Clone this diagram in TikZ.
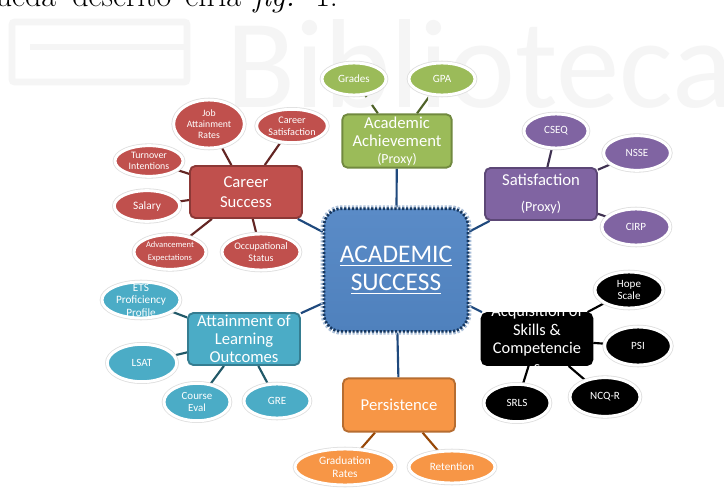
\documentclass[tikz,border=0pt]{standalone}
\usepackage{fontspec}
\newfontfamily\diagfont{Carlito}
\usetikzlibrary{shapes.geometric}
\pgfdeclarelayer{bg}
\pgfsetlayers{bg,main}

% palette
\definecolor{accBlue}{HTML}{4F81BD}
\definecolor{accBlueTop}{HTML}{5A8BC7}
\definecolor{accBlueEdge}{HTML}{17375E}
\definecolor{accBlueHalo}{HTML}{A9BED8}
\definecolor{linkBlue}{HTML}{1F497D}
\definecolor{accGreen}{HTML}{9BBB59}
\definecolor{accGreenEdge}{HTML}{71893F}
\definecolor{linkGreen}{HTML}{4F6228}
\definecolor{accRed}{HTML}{C0504D}
\definecolor{accRedEdge}{HTML}{8C3836}
\definecolor{linkRed}{HTML}{632523}
\definecolor{accPurple}{HTML}{8064A2}
\definecolor{accPurpleEdge}{HTML}{5C4776}
\definecolor{linkPurple}{HTML}{3F3151}
\definecolor{accTeal}{HTML}{4BACC6}
\definecolor{accTealEdge}{HTML}{357D91}
\definecolor{linkTeal}{HTML}{215968}
\definecolor{accOrange}{HTML}{F79646}
\definecolor{accOrangeEdge}{HTML}{B66D31}
\definecolor{linkOrange}{HTML}{984807}

\tikzset{
  hub/.style={rectangle, rounded corners=4pt, line width=1.4pt, text=white,
    align=center, inner xsep=0pt, inner ysep=0pt,
    font=\diagfont\fontsize{12.5}{14}\selectfont},
  leaf/.style={ellipse, inner xsep=0pt, inner ysep=-4pt, text=white,
    align=center, draw=white, line width=2.2pt,
    preaction={draw=black!13, line width=3.4pt},
    font=\diagfont\fontsize{8.3}{9.4}\selectfont},
  link/.style={line width=1.6pt},
}

\begin{document}
\begin{tikzpicture}[x=0.75pt,y=-0.75pt]
\useasboundingbox (0,0) rectangle (724,492);
\clip (0,0) rectangle (724,492);

% connectors and page background, kept behind the shapes
\begin{pgfonlayer}{bg}
  \fill[white] (0,0) rectangle (724,492);
  % faint library watermark
  \draw[black!4, line width=5pt, rounded corners=2pt] (12,22) rectangle (187,82);
  \draw[black!4, line width=4pt] (30,47) -- (185,47);
\end{pgfonlayer}
\node[anchor=base west, inner sep=0pt, text=black!4,
      font=\diagfont\fontsize{95}{95}\selectfont] (wmark) at (226,108) {Biblioteca};

% running text of the page above the figure
\node[anchor=base west, inner sep=0pt, font=\fontsize{24}{26}\selectfont]
  (caption) at (-20,7)
  {\rlap{queda}\hspace{69pt}\rlap{descrito}\hspace{84.75pt}\rlap{en}\hspace{24.75pt}\rlap{la}\hspace{26.25pt}\rlap{\textit{fig.}}\hspace{46.5pt}1.};

% central node
\node[rectangle, rounded corners=13pt, minimum width=108pt, minimum height=92pt,
      top color=accBlueTop, bottom color=accBlue,
      preaction={draw=accBlueHalo, line width=5pt},
      draw=accBlueEdge, line width=2pt, dash pattern=on 1.6pt off 1.3pt,
      text=white, align=center, inner sep=0pt,
      font=\diagfont\fontsize{19}{21}\selectfont]
  (core) at (396,270) {\underline{ACADEMIC}\\\underline{SUCCESS}};

% first ring of categories
\node[hub, fill=accGreen, draw=accGreenEdge, minimum width=82pt, minimum height=40pt]
  (acad) at (397,141) {Academic\\Achievement\\[-1.5pt]{\fontsize{10.4}{12}\selectfont(Proxy)}};
\node[hub, fill=accRed, draw=accRedEdge, minimum width=84pt, minimum height=39pt]
  (career) at (246,192) {Career\\[1pt]Success};
\node[hub, fill=accPurple, draw=accPurpleEdge, minimum width=84pt, minimum height=39pt]
  (satis) at (541,194) {Satisfaction\\[5pt]{\fontsize{10.6}{12}\selectfont(Proxy)}};
\node[hub, fill=accTeal, draw=accTealEdge, minimum width=84pt, minimum height=39pt,
      inner ysep=-3pt, font=\diagfont\fontsize{12.5}{13.5}\selectfont]
  (attain) at (244,339) {Attainment of\\Learning\\Outcomes};
\node[hub, fill=black, draw=black, minimum width=83pt, minimum height=39pt,
      inner ysep=-12pt, font=\diagfont\fontsize{12.3}{13.9}\selectfont]
  (skills) at (537,339) {Acquisition of\\Skills \&\\Competencie\\s};
\node[hub, fill=accOrange, draw=accOrangeEdge, minimum width=84pt, minimum height=40pt]
  (persist) at (399,405) {Persistence};

% academic achievement measures
\node[leaf, fill=accGreen, minimum width=48pt, minimum height=24pt] (grades) at (354,79) {Grades};
\node[leaf, fill=accGreen, minimum width=49.5pt, minimum height=24pt] (gpa) at (442,79) {GPA};

% career success measures
\node[leaf, fill=accRed, minimum width=53pt, minimum height=36pt,
      font=\diagfont\fontsize{7.3}{8.4}\selectfont] (jobrate) at (209,124) {Job\\Attainment\\Rates};
\node[leaf, fill=accRed, minimum width=53pt, minimum height=25pt,
      font=\diagfont\fontsize{7.6}{9}\selectfont] (careersat) at (292,126) {Career\\Satisfaction};
\node[leaf, fill=accRed, minimum width=51pt, minimum height=23pt,
      font=\diagfont\fontsize{7.4}{8.8}\selectfont] (turnover) at (149,161) {Turnover\\Intentions};
\node[leaf, fill=accRed, minimum width=49pt, minimum height=23pt,
      font=\diagfont\fontsize{8.5}{9.5}\selectfont] (salary) at (147,206) {Salary};
\node[leaf, fill=accRed, minimum width=54pt, minimum height=26pt,
      font=\diagfont\fontsize{6.4}{9.5}\selectfont] (advance) at (170,252) {Advancement\\Expectations};
\node[leaf, fill=accRed, minimum width=58.5pt, minimum height=27pt,
      font=\diagfont\fontsize{7.5}{9.2}\selectfont] (occup) at (261,252) {Occupational\\Status};

% satisfaction measures
\node[leaf, fill=accPurple, minimum width=48pt, minimum height=25.5pt] (cseq) at (556,131) {CSEQ};
\node[leaf, fill=accPurple, minimum width=50pt, minimum height=26pt] (nsse) at (637,153) {NSSE};
\node[leaf, fill=accPurple, minimum width=51pt, minimum height=27pt] (cirp) at (636,227) {CIRP};

% learning outcome measures
\node[leaf, fill=accTeal, minimum width=58.5pt, minimum height=27pt,
      font=\diagfont\fontsize{8.4}{9.4}\selectfont] (ets) at (141,300) {ETS\\Proficiency\\Profile};
\node[leaf, fill=accTeal, minimum width=52pt, minimum height=28pt] (lsat) at (142,363) {LSAT};
\node[leaf, fill=accTeal, minimum width=49.5pt, minimum height=28pt,
      font=\diagfont\fontsize{8.2}{9.4}\selectfont] (course) at (197,402) {Course\\Eval};
\node[leaf, fill=accTeal, minimum width=49.5pt, minimum height=25.5pt] (gre) at (277,401) {GRE};

% skills and competencies measures
\node[leaf, fill=black, minimum width=51pt, minimum height=27pt,
      font=\diagfont\fontsize{8.3}{8.8}\selectfont] (hope) at (629,290) {Hope\\Scale};
\node[leaf, fill=black, minimum width=50pt, minimum height=28.5pt] (psi) at (638,346) {PSI};
\node[leaf, fill=black, minimum width=52.5pt, minimum height=29pt] (ncqr) at (605,397) {NCQ-R};
\node[leaf, fill=black, minimum width=49.5pt, minimum height=28pt] (srls) at (517,403) {SRLS};

% persistence measures
\node[leaf, fill=accOrange, minimum width=75pt, minimum height=27pt,
      font=\diagfont\fontsize{8.5}{9.3}\selectfont] (gradrate) at (345,467) {Graduation\\Rates};
\node[leaf, fill=accOrange, minimum width=64.5pt, minimum height=24pt,
      font=\diagfont\fontsize{8.4}{9.3}\selectfont] (retain) at (452,467) {Retention};

\begin{pgfonlayer}{bg}
  \draw[link, linkBlue] (core) -- (acad);
  \draw[link, linkBlue] (core) -- (career);
  \draw[link, linkBlue] (core) -- (satis);
  \draw[link, linkBlue] (core) -- (attain);
  \draw[link, linkBlue] (core) -- (skills);
  \draw[link, linkBlue] (core) -- (persist);

  \draw[link, linkGreen] (acad) -- (grades);
  \draw[link, linkGreen] (acad) -- (gpa);

  \draw[link, linkRed] (career) -- (jobrate);
  \draw[link, linkRed] (career) -- (careersat);
  \draw[link, linkRed] (career) -- (turnover);
  \draw[link, linkRed] (career) -- (salary);
  \draw[link, linkRed] (career) -- (advance);
  \draw[link, linkRed] (career) -- (occup);

  \draw[link, linkPurple] (satis) -- (cseq);
  \draw[link, linkPurple] (satis) -- (nsse);
  \draw[link, linkPurple] (satis) -- (cirp);

  \draw[link, linkTeal] (attain) -- (ets);
  \draw[link, linkTeal] (attain) -- (lsat);
  \draw[link, linkTeal] (attain) -- (course);
  \draw[link, linkTeal] (attain) -- (gre);

  \draw[link, black] (skills) -- (hope);
  \draw[link, black] (skills) -- (psi);
  \draw[link, black] (skills) -- (ncqr);
  \draw[link, black] (skills) -- (srls);

  \draw[link, linkOrange] (persist) -- (gradrate);
  \draw[link, linkOrange] (persist) -- (retain);
\end{pgfonlayer}
\end{tikzpicture}
\end{document}
